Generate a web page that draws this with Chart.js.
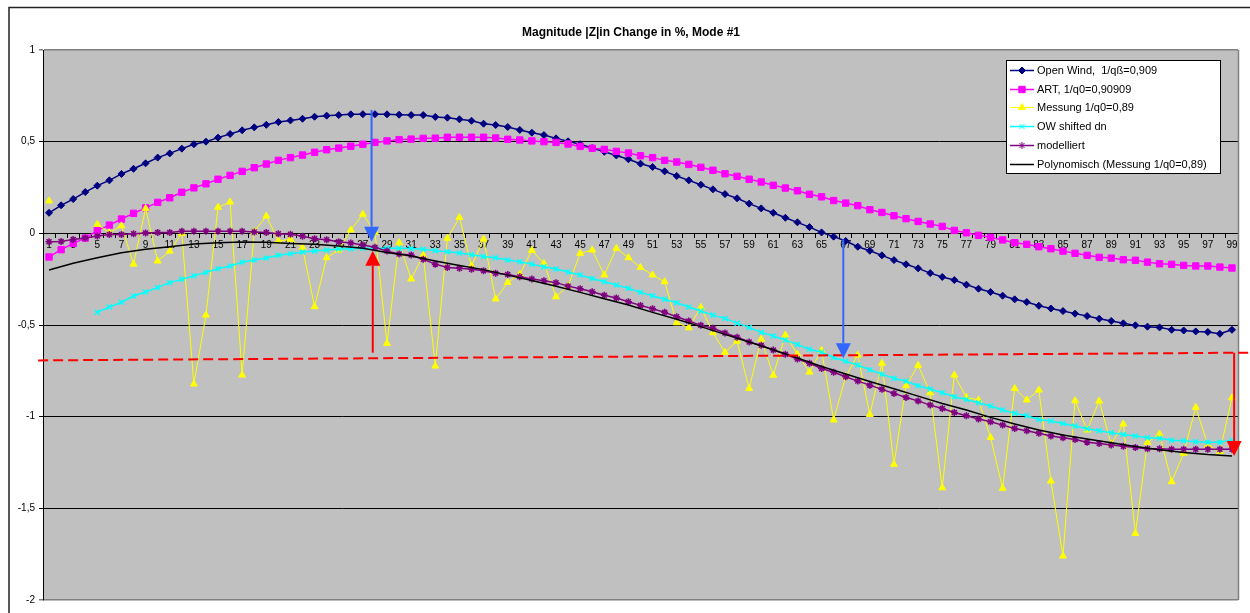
<!DOCTYPE html>
<html lang="de">
<head>
<meta charset="UTF-8">
<title>Magnitude |Z|in Change in %, Mode #1</title>
<script src="https://cdn.jsdelivr.net/npm/chart.js"></script>
<style>
  html, body { margin: 0; padding: 0; background: #fff; }
  #wrap { width: 1250px; height: 613px; }
</style>
</head>
<body>
<div id="wrap"><canvas id="zChart" width="1250" height="613"></canvas></div>
<script>
// categories 1..99
const categories = Array.from({ length: 99 }, (_, i) => String(i + 1));

const yTicks = [-2, -1.5, -1, -0.5, 0, 0.5, 1];

const openWind = [
  0.112, 0.153, 0.187, 0.225, 0.260, 0.289, 0.324, 0.352, 0.382, 0.413,
  0.436, 0.462, 0.486, 0.500, 0.522, 0.542, 0.562, 0.578, 0.592, 0.607,
  0.616, 0.625, 0.636, 0.642, 0.645, 0.649, 0.650, 0.650, 0.649, 0.647,
  0.645, 0.645, 0.635, 0.631, 0.622, 0.614, 0.598, 0.591, 0.580, 0.564,
  0.549, 0.536, 0.518, 0.502, 0.486, 0.465, 0.445, 0.425, 0.404, 0.380,
  0.362, 0.338, 0.313, 0.289, 0.265, 0.240, 0.214, 0.191, 0.162, 0.136,
  0.112, 0.085, 0.060, 0.034, 0.005, -0.018, -0.042, -0.073, -0.095, -0.120,
  -0.146, -0.169, -0.191, -0.217, -0.238, -0.255, -0.280, -0.302, -0.320, -0.340,
  -0.360, -0.375, -0.395, -0.410, -0.424, -0.438, -0.451, -0.466, -0.478, -0.491,
  -0.502, -0.509, -0.513, -0.526, -0.530, -0.535, -0.538, -0.548, -0.526
];

const art = [
  -0.129, -0.089, -0.055, -0.026, 0.015, 0.045, 0.078, 0.109, 0.139, 0.169,
  0.194, 0.224, 0.248, 0.270, 0.295, 0.316, 0.338, 0.358, 0.378, 0.398,
  0.413, 0.427, 0.442, 0.456, 0.465, 0.475, 0.486, 0.496, 0.504, 0.511,
  0.514, 0.518, 0.519, 0.524, 0.524, 0.524, 0.524, 0.520, 0.513, 0.509,
  0.504, 0.500, 0.496, 0.487, 0.474, 0.464, 0.458, 0.447, 0.438, 0.423,
  0.413, 0.398, 0.389, 0.376, 0.360, 0.344, 0.325, 0.311, 0.295, 0.280,
  0.262, 0.247, 0.232, 0.213, 0.199, 0.179, 0.165, 0.151, 0.129, 0.114,
  0.096, 0.080, 0.065, 0.051, 0.038, 0.016, 0.003, -0.011, -0.022, -0.036,
  -0.051, -0.060, -0.073, -0.084, -0.097, -0.109, -0.120, -0.131, -0.135, -0.144,
  -0.147, -0.157, -0.166, -0.169, -0.175, -0.178, -0.178, -0.184, -0.189
];

const messung = [
  0.177, null, null, null, 0.049, 0.003, 0.041, -0.168, 0.136, -0.151,
  -0.097, 0.000, -0.822, -0.446, 0.142, 0.171, -0.773, 0.009, 0.094, -0.042,
  -0.033, -0.078, -0.400, -0.133, -0.091, 0.018, 0.104, 0.005, -0.600, -0.051,
  -0.249, -0.120, -0.724, -0.027, 0.087, -0.178, -0.031, -0.358, -0.268, -0.224,
  -0.093, -0.164, -0.346, -0.288, -0.109, -0.091, -0.227, -0.082, -0.133, -0.186,
  -0.227, -0.264, -0.488, -0.515, -0.404, -0.542, -0.649, -0.588, -0.846, -0.578,
  -0.774, -0.555, -0.659, -0.757, -0.638, -1.018, -0.782, -0.664, -0.988, -0.709,
  -1.260, -0.831, -0.720, -0.870, -1.388, -0.773, -0.895, -0.909, -1.113, -1.391,
  -0.846, -0.909, -0.855, -1.351, -1.760, -0.913, -1.073, -0.915, -1.149, -1.040,
  -1.637, -1.140, -1.095, -1.355, -1.200, -0.949, -1.155, -1.191, -0.897
];

const owShifted = [
  null, null, null, null, -0.431, -0.402, -0.376, -0.342, -0.320, -0.295,
  -0.269, -0.251, -0.231, -0.213, -0.193, -0.178, -0.158, -0.146, -0.135, -0.120,
  -0.111, -0.102, -0.097, -0.091, -0.086, -0.084, -0.082, -0.082, -0.082, -0.082,
  -0.083, -0.087, -0.095, -0.100, -0.107, -0.117, -0.126, -0.133, -0.146, -0.155,
  -0.168, -0.182, -0.195, -0.211, -0.227, -0.246, -0.264, -0.282, -0.300, -0.322,
  -0.340, -0.360, -0.379, -0.402, -0.424, -0.446, -0.464, -0.490, -0.513, -0.540,
  -0.560, -0.582, -0.607, -0.632, -0.649, -0.677, -0.698, -0.718, -0.744, -0.768,
  -0.791, -0.807, -0.831, -0.849, -0.870, -0.891, -0.906, -0.924, -0.942, -0.964,
  -0.982, -0.995, -1.015, -1.024, -1.037, -1.051, -1.066, -1.077, -1.088, -1.097,
  -1.106, -1.115, -1.118, -1.128, -1.131, -1.137, -1.139, -1.139, -1.128
];

const modelliert = [
  -0.046, -0.044, -0.033, -0.026, -0.015, -0.007, -0.007, -0.002, 0.002, 0.005,
  0.005, 0.011, 0.011, 0.011, 0.011, 0.011, 0.011, 0.007, 0.005, -0.002,
  -0.005, -0.016, -0.029, -0.035, -0.046, -0.053, -0.064, -0.076, -0.097, -0.113,
  -0.118, -0.142, -0.168, -0.186, -0.191, -0.196, -0.204, -0.218, -0.224, -0.237,
  -0.249, -0.259, -0.269, -0.288, -0.302, -0.319, -0.338, -0.353, -0.373, -0.393,
  -0.411, -0.431, -0.455, -0.478, -0.502, -0.518, -0.544, -0.567, -0.593, -0.611,
  -0.637, -0.660, -0.686, -0.709, -0.737, -0.758, -0.782, -0.806, -0.828, -0.851,
  -0.873, -0.895, -0.914, -0.937, -0.955, -0.977, -0.995, -1.013, -1.028, -1.046,
  -1.064, -1.077, -1.091, -1.106, -1.115, -1.124, -1.139, -1.146, -1.155, -1.162,
  -1.168, -1.175, -1.175, -1.178, -1.178, -1.178, -1.178, -1.178, -1.178
];

// trendline read at odd categories only, gaps spanned
const polynom = [
  -0.200, null, -0.163, null, -0.133, null, -0.106, null, -0.087, null,
  -0.073, null, -0.058, null, -0.051, null, -0.047, null, -0.049, null,
  -0.055, null, -0.060, null, -0.069, null, -0.082, null, -0.104, null,
  -0.124, null, -0.151, null, -0.176, null, -0.198, null, -0.228, null,
  -0.257, null, -0.289, null, -0.322, null, -0.357, null, -0.391, null,
  -0.431, null, -0.469, null, -0.509, null, -0.551, null, -0.593, null,
  -0.635, null, -0.680, null, -0.726, null, -0.767, null, -0.808, null,
  -0.848, null, -0.888, null, -0.928, null, -0.964, null, -1.004, null,
  -1.040, null, -1.073, null, -1.100, null, -1.122, null, -1.142, null,
  -1.163, null, -1.180, null, -1.195, null, -1.207, null, -1.215
];

// hand-drawn annotations, in category number / value units
const levelX = [0.1, 100.35];
const levelY = [-0.693, -0.651];
const arrowX = [27.72, 27.82, 66.8, 99.18];
const arrowFrom = [0.673, -0.651, -0.033, -0.651];
const arrowTo = [-0.046, -0.095, -0.682, -1.215];
const arrowKind = ['blue', 'red', 'blue', 'red'];

const FONT = 'Arial, "Liberation Sans", sans-serif';

const series = [
  { label: 'Open Wind,  1/qß=0,909', data: openWind, color: '#000080', style: 'rectRot', r: 3.5, w: 1.5 },
  { label: 'ART, 1/q0=0,90909', data: art, color: '#FF00FF', style: 'rect', r: 4.5, w: 1.5 },
  { label: 'Messung 1/q0=0,89', data: messung, color: '#FFFF00', style: 'triangle', r: 4, w: 1 },
  { label: 'OW shifted dn', data: owShifted, color: '#00FFFF', style: 'crossRot', r: 3.5, w: 1.5 },
  { label: 'modelliert', data: modelliert, color: '#800080', style: 'star', r: 3.5, w: 1.5 },
  { label: 'Polynomisch (Messung 1/q0=0,89)', data: polynom, color: '#000000', style: false, r: 0, w: 1.5 }
];

const datasets = series.map((s, i) => ({
  label: s.label,
  data: s.data,
  borderColor: s.color,
  backgroundColor: s.color,
  borderWidth: s.w,
  pointStyle: s.style,
  pointRadius: s.r,
  pointBackgroundColor: s.color,
  pointBorderColor: s.color,
  pointBorderWidth: s.style === 'crossRot' || s.style === 'star' ? 1.5 : 1,
  spanGaps: s.style === false,
  order: series.length - i,
  fill: false,
  tension: 0
}));

const frame = {
  id: 'frame',
  beforeDraw(chart) {
    const { ctx, chartArea: a } = chart;
    ctx.save();
    ctx.fillStyle = '#fff';
    ctx.fillRect(0, 0, chart.width, chart.height);
    ctx.strokeStyle = '#222';
    ctx.lineWidth = 1.5;
    ctx.beginPath();
    ctx.moveTo(9, chart.height);
    ctx.lineTo(9, 7.5);
    ctx.lineTo(chart.width, 7.5);
    ctx.stroke();
    ctx.fillStyle = '#C0C0C0';
    ctx.fillRect(a.left, a.top, a.right - a.left, a.bottom - a.top);
    ctx.restore();
  },
  afterDatasetsDraw(chart) {
    const { ctx, chartArea: a, scales: { x, y } } = chart;
    ctx.save();
    ctx.strokeStyle = '#808080';
    ctx.lineWidth = 1.5;
    ctx.beginPath();
    ctx.moveTo(a.right + 0.5, a.top);
    ctx.lineTo(a.right + 0.5, a.bottom);
    ctx.stroke();

    // red dashed level line
    ctx.strokeStyle = '#FF0000';
    ctx.lineWidth = 2;
    ctx.setLineDash([10, 5]);
    ctx.beginPath();
    ctx.moveTo(x.getPixelForValue(levelX[0] - 1), y.getPixelForValue(levelY[0]));
    ctx.lineTo(x.getPixelForValue(levelX[1] - 1), y.getPixelForValue(levelY[1]));
    ctx.stroke();
    ctx.setLineDash([]);

    arrowX.forEach((cx, i) => {
      const col = arrowKind[i] === 'blue' ? '#3366FF' : '#FF0000';
      const px = x.getPixelForValue(cx - 1);
      const y0 = y.getPixelForValue(arrowFrom[i]);
      const y1 = y.getPixelForValue(arrowTo[i]);
      const dir = y1 > y0 ? 1 : -1;
      const head = 15;
      ctx.strokeStyle = col;
      ctx.fillStyle = col;
      ctx.lineWidth = 2;
      ctx.beginPath();
      ctx.moveTo(px, y0);
      ctx.lineTo(px, y1 - dir * head);
      ctx.stroke();
      ctx.beginPath();
      ctx.moveTo(px, y1);
      ctx.lineTo(px - 7.5, y1 - dir * head);
      ctx.lineTo(px + 7.5, y1 - dir * head);
      ctx.closePath();
      ctx.fill();
    });
    ctx.restore();
  },
  afterDraw(chart) {
    const { ctx } = chart;
    ctx.save();
    // title
    ctx.fillStyle = '#000';
    ctx.font = 'bold 12px ' + FONT;
    ctx.textAlign = 'center';
    ctx.textBaseline = 'middle';
    ctx.fillText('Magnitude |Z|in Change in %, Mode #1', 631, 33);

    // legend box
    const bx = 1006, by = 60, bw = 214, bh = 113;
    ctx.fillStyle = '#fff';
    ctx.fillRect(bx, by, bw, bh);
    ctx.strokeStyle = '#000';
    ctx.lineWidth = 1;
    ctx.strokeRect(bx + 0.5, by + 0.5, bw, bh);
    ctx.font = '11px ' + FONT;
    ctx.textAlign = 'left';
    series.forEach((s, i) => {
      const ry = Math.round(70 + i * 18.7) + 0.5;
      ctx.strokeStyle = s.color;
      ctx.fillStyle = s.color;
      ctx.lineWidth = s.w;
      ctx.beginPath();
      ctx.moveTo(1010, ry);
      ctx.lineTo(1034, ry);
      ctx.stroke();
      if (s.style) {
        ctx.lineWidth = 1;
        Chart.helpers.drawPoint(ctx, { pointStyle: s.style, radius: s.r, borderWidth: 1, rotation: 0 }, 1022, ry);
      }
      ctx.fillStyle = '#000';
      ctx.fillText(s.label, 1037, ry);
    });
    ctx.restore();
  }
};

new Chart(document.getElementById('zChart').getContext('2d'), {
  type: 'line',
  data: { labels: categories, datasets: datasets },
  plugins: [frame],
  options: {
    responsive: false,
    animation: false,
    layout: { padding: { left: 0, top: 50, right: 12, bottom: 13 } },
    plugins: {
      legend: { display: false },
      title: { display: false },
      tooltip: { enabled: false }
    },
    scales: {
      x: {
        type: 'category',
        position: { y: 0 },
        offset: true,
        grid: { display: true, drawOnChartArea: false, drawTicks: true, tickLength: 4, offset: true, color: '#000' },
        border: { display: true, color: '#000', width: 1 },
        ticks: {
          autoSkip: false, maxRotation: 0, minRotation: 0, padding: 2,
          color: '#000', font: { family: FONT, size: 10 },
          callback: function (v, i) { return i % 2 === 0 ? this.getLabelForValue(v) : ''; }
        }
      },
      y: {
        min: yTicks[0],
        max: yTicks[yTicks.length - 1],
        afterFit: s => { s.width = 43; },
        afterBuildTicks: s => { s.ticks = yTicks.map(v => ({ value: v })); },
        grid: {
          color: c => (c.tick && (c.tick.value === 1 || c.tick.value === -2) ? '#808080' : '#000'),
          lineWidth: c => (c.tick && (c.tick.value === 1 || c.tick.value === -2) ? 1.5 : 1),
          tickLength: 4
        },
        border: { display: true, color: '#000', width: 1 },
        ticks: {
          padding: 4, color: '#000', font: { family: FONT, size: 10 },
          callback: v => String(v).replace('.', ',')
        }
      }
    }
  }
});
</script>
</body>
</html>
